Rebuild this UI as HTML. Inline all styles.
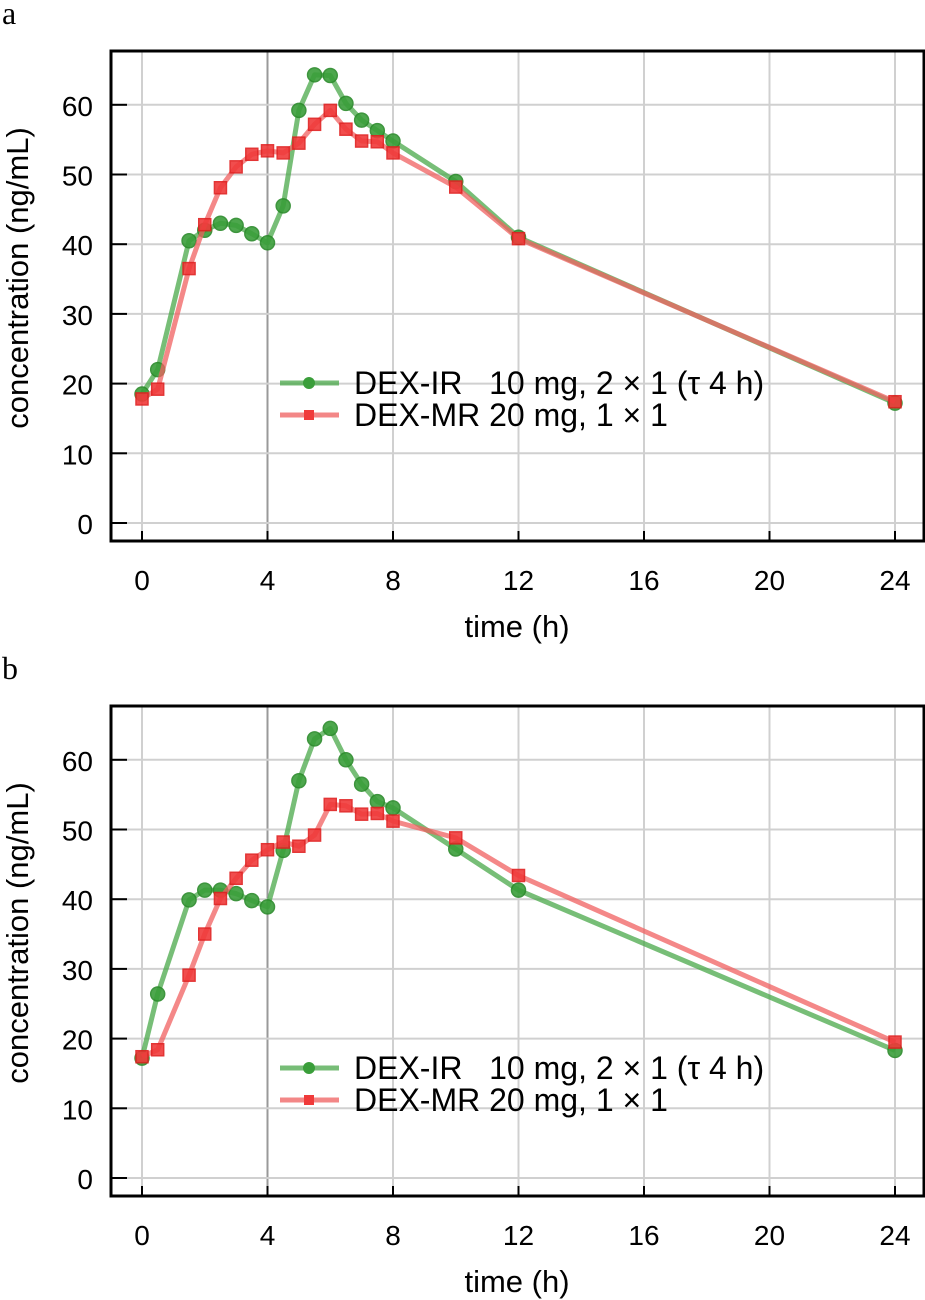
<!DOCTYPE html>
<html><head><meta charset="utf-8">
<style>
body{margin:0;background:#fff;}
svg{display:block;font-family:"Liberation Sans",sans-serif;}
</style></head>
<body>
<svg id="chart" width="925" height="1300" xmlns="http://www.w3.org/2000/svg"></svg>
<script>
const times = [0,0.5,1.5,2,2.5,3,3.5,4,4.5,5,5.5,6,6.5,7,7.5,8,10,12,24];
const aIR = [18.5,22,40.5,42,43,42.7,41.5,40.2,45.5,59.2,64.3,64.2,60.2,57.8,56.3,54.8,49,41,17.2];
const aMR = [17.8,19.2,36.5,42.8,48.1,51.1,52.9,53.4,53.1,54.5,57.2,59.2,56.5,54.8,54.7,53.1,48.2,40.8,17.4];
const bIR = [17.2,26.4,39.9,41.3,41.3,40.8,39.8,38.9,47,57,63,64.5,60,56.5,54,53.1,47.2,41.3,18.3];
const bMR = [17.4,18.4,29.1,35,40.1,43,45.6,47.1,48.2,47.6,49.2,53.6,53.4,52.2,52.3,51.2,48.8,43.4,19.5];
const xTicks = [0,4,8,12,16,20,24];
const yTicks = [0,10,20,30,40,50,60];
const legendIR = "DEX-IR   10 mg, 2 × 1 (τ 4 h)";
const legendMR = "DEX-MR 20 mg, 1 × 1";

const NS = "http://www.w3.org/2000/svg";
const svg = document.getElementById('chart');
function mk(tag, attrs, parent){
  const e = document.createElementNS(NS, tag);
  for (const k in attrs) e.setAttribute(k, attrs[k]);
  (parent||svg).appendChild(e);
  return e;
}

function panel(letter, top, y0, ir, mr, legY){
  const g = mk('g', {});
  
  
  const left = 111, right = 924, bottom = top + 490;
  const sx = t => 142 + t * 31.375;
  const sy = v => y0 - v * 6.97;
  const lab = mk('text', {x: 2, y: top - 27, 'font-family': '"Liberation Serif",serif', 'font-size': 32}, g);
  lab.textContent = letter;
  
  
  xTicks.forEach(t => {
    const l = mk('line', {x1: sx(t), x2: sx(t), y1: top, y2: bottom, stroke: t === 4 ? '#999' : '#d0d0d0', 'stroke-width': 2}, g);
    
    
    const tk = mk('line', {x1: sx(t), x2: sx(t), y1: bottom, y2: bottom - 10, stroke: '#000', 'stroke-width': 2}, g);
    
    
    const tx = mk('text', {x: sx(t), y: bottom + 49, 'font-size': 28, 'text-anchor': 'middle'}, g);
    tx.textContent = t;
    
    
  });
  yTicks.forEach(v => {
    const l = mk('line', {x1: left, x2: right, y1: sy(v), y2: sy(v), stroke: '#d0d0d0', 'stroke-width': 2}, g);
    
    
    const tk = mk('line', {x1: left, x2: left + 16, y1: sy(v), y2: sy(v), stroke: '#000', 'stroke-width': 2}, g);
    
    
    const tx = mk('text', {x: 93, y: sy(v) + 11, 'font-size': 28, 'text-anchor': 'end'}, g);
    tx.textContent = v;
    
    
  });
  const box = mk('rect', {x: left, y: top, width: right - left, height: bottom - top, fill: 'none', stroke: '#000', 'stroke-width': 3}, g);
  
  
  const xt = mk('text', {x: 517, y: bottom + 96, 'font-size': 31, 'text-anchor': 'middle'}, g);
  xt.textContent = 'time (h)';
  
  
  const yt = mk('text', {x: 0, y: 0, 'font-size': 31, 'text-anchor': 'middle', transform: `translate(28,${(top+bottom)/2 - 18}) rotate(-90)`}, g);
  yt.textContent = 'concentration (ng/mL)';
  
  

  function series(vals, lineCol, markCol, kind, name){
    const pts = vals.map((v,i) => sx(times[i]) + ',' + sy(v)).join(' ');
    const pl = mk('polyline', {points: pts, fill: 'none', stroke: lineCol, 'stroke-width': 5, 'stroke-linejoin': 'round', opacity: 0.75}, g);
    
    
    vals.forEach((v,i) => {
      let m;
      if (kind === 'c') m = mk('circle', {cx: sx(times[i]), cy: sy(v), r: 7, fill: markCol, stroke: '#2a8a2a', 'stroke-width': 1.5, opacity: 0.9}, g);
      else m = mk('rect', {x: sx(times[i]) - 6, y: sy(v) - 6, width: 12, height: 12, fill: markCol, stroke: '#e02020', 'stroke-width': 1.5, opacity: 0.9}, g);
      
      
    });
  }
  series(ir, '#4aa84a', '#3a9e3a', 'c', 'dex-ir');
  series(mr, '#f06060', '#f03a3a', 's', 'dex-mr');

  const lg = mk('g', {}, g);
  
  
  [[legendIR, '#4aa84a', '#3a9e3a', 'c', 0], [legendMR, '#f06060', '#f03a3a', 's', 32]].forEach(([txt, lc, mc, k, dy]) => {
    const y = legY + dy;
    const ln = mk('line', {x1: 280, x2: 339, y1: y, y2: y, stroke: lc, 'stroke-width': 5, opacity: 0.75}, lg);
    
    
    let m;
    if (k === 'c') m = mk('circle', {cx: 309, cy: y, r: 6, fill: mc}, lg);
    else m = mk('rect', {x: 304, y: y - 5, width: 10, height: 10, fill: mc}, lg);
    
    
    const t = mk('text', {x: 354, y: y + 11, 'font-size': 32}, lg);
    t.setAttribute('style', 'white-space:pre');
    t.textContent = txt;
    
    
  });
}
panel('a', 51, 523, aIR, aMR, 383);
panel('b', 706, 1178, bIR, bMR, 1068);
</script>
</body></html>
